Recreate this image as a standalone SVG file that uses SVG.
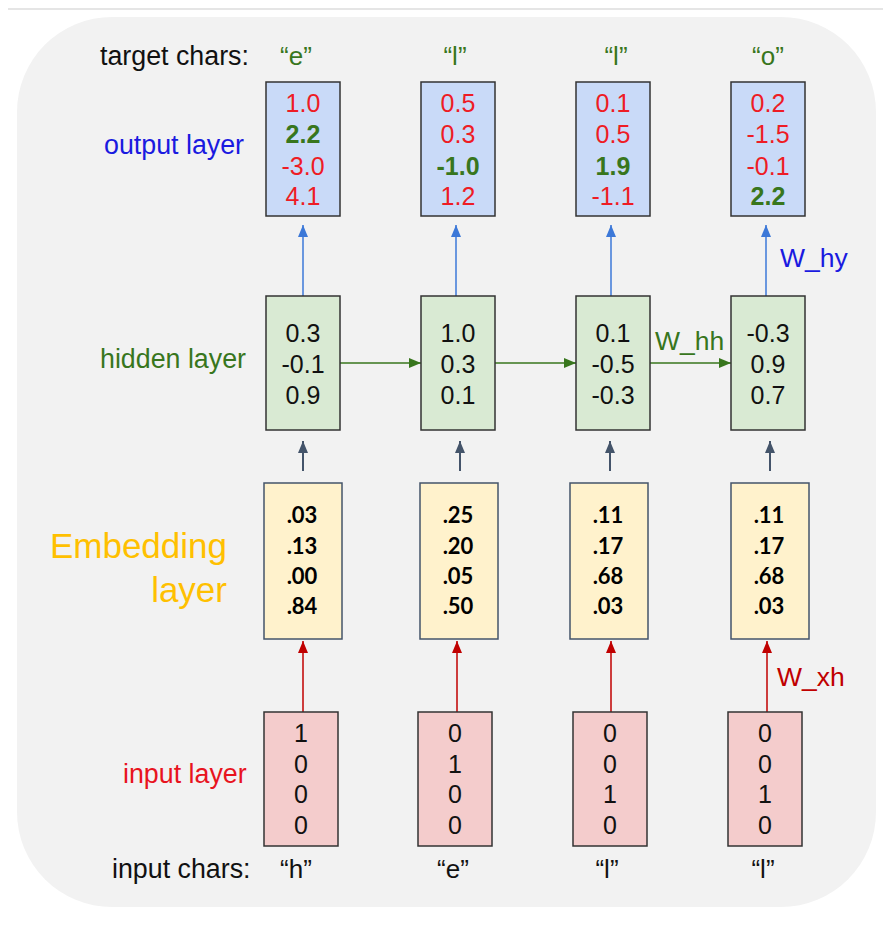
<svg xmlns="http://www.w3.org/2000/svg" width="896" height="928" viewBox="0 0 896 928">
<defs>
<marker id="ab" viewBox="0 0 12 10" refX="12" refY="5" markerWidth="12" markerHeight="10" markerUnits="userSpaceOnUse" orient="auto"><path d="M0,0 L12,5 L0,10 z" fill="#3c78d8"/></marker>
<marker id="as" viewBox="0 0 12 10" refX="12" refY="5" markerWidth="12" markerHeight="11" markerUnits="userSpaceOnUse" orient="auto"><path d="M0,0 L12,5 L0,10 z" fill="#44546a"/></marker>
<marker id="ar" viewBox="0 0 12 10" refX="12" refY="5" markerWidth="12" markerHeight="10" markerUnits="userSpaceOnUse" orient="auto"><path d="M0,0 L12,5 L0,10 z" fill="#c00000"/></marker>
<marker id="ag" viewBox="0 0 12 10" refX="12" refY="5" markerWidth="12" markerHeight="10" markerUnits="userSpaceOnUse" orient="auto"><path d="M0,0 L12,5 L0,10 z" fill="#38761d"/></marker>
</defs>
<style>
text{font-family:"Liberation Sans",Arial,sans-serif;}
.v{font-size:25px;text-anchor:middle;}
.lab{font-size:26.8px;}
.w{font-size:26.5px;}
.out{fill:#c9daf8;stroke:#333;stroke-width:1.5;}
.hid{fill:#d9ead3;stroke:#333;stroke-width:1.5;}
.emb{fill:#fff2cc;stroke:#44546a;stroke-width:1.5;}
.inp{fill:#f4cccc;stroke:#333;stroke-width:1.5;}
.r{fill:#ee1c25;}
.g{fill:#38761d;font-weight:bold;}
.k{fill:#111;}
.e{font-family:Lato,"Open Sans",sans-serif;font-weight:bold;font-size:22px;text-anchor:middle;fill:#000;}
.ch{fill:#38761d;font-size:26px;text-anchor:middle;}
.ich{fill:#111;font-size:26px;text-anchor:middle;}
</style>
<rect x="0" y="0" width="896" height="928" fill="#fff"/>
<line x1="8" y1="9" x2="883" y2="9" stroke="#ddd" stroke-width="1.5"/>
<rect x="17" y="17" width="859" height="890" rx="95" ry="95" fill="#f2f2f2"/>

<g id="labels">
<text class="lab" x="100" y="65" fill="#111">target chars:</text>
<text class="lab" x="104" y="154" fill="#1a1ae0">output layer</text>
<text class="lab" x="100" y="368" fill="#38761d">hidden layer</text>
<text x="227" y="558" text-anchor="end" font-family="Lato,'Open Sans',sans-serif" font-size="35" fill="#ffc000">Embedding</text>
<text x="227" y="602" text-anchor="end" font-family="Lato,'Open Sans',sans-serif" font-size="35" fill="#ffc000">layer</text>
<text class="lab" x="123" y="783" fill="#e8141e">input layer</text>
<text class="lab" x="112" y="878" fill="#111">input chars:</text>
<text class="ch" x="296" y="65">“e”</text>
<text class="ch" x="455" y="65">“l”</text>
<text class="ch" x="616" y="65">“l”</text>
<text class="ch" x="768" y="65">“o”</text>
<text class="ich" x="296" y="878">“h”</text>
<text class="ich" x="453" y="878">“e”</text>
<text class="ich" x="607" y="878">“l”</text>
<text class="ich" x="763" y="878">“l”</text>
</g>

<g id="connectors">
<line x1="303" y1="296" x2="303" y2="225" stroke="#3c78d8" stroke-width="1.5" marker-end="url(#ab)"/>
<line x1="456" y1="296" x2="456" y2="225" stroke="#3c78d8" stroke-width="1.5" marker-end="url(#ab)"/>
<line x1="611" y1="296" x2="611" y2="225" stroke="#3c78d8" stroke-width="1.5" marker-end="url(#ab)"/>
<line x1="766" y1="296" x2="766" y2="225" stroke="#3c78d8" stroke-width="1.5" marker-end="url(#ab)"/>
<text class="w" x="780" y="267" fill="#1a1ae0">W_hy</text>
<line x1="340" y1="363" x2="421" y2="363" stroke="#38761d" stroke-width="1.5" marker-end="url(#ag)"/>
<line x1="495" y1="363" x2="576" y2="363" stroke="#38761d" stroke-width="1.5" marker-end="url(#ag)"/>
<line x1="650" y1="363" x2="731" y2="363" stroke="#38761d" stroke-width="1.5" marker-end="url(#ag)"/>
<text class="w" x="655" y="350" fill="#38761d">W_hh</text>
<line x1="303" y1="471" x2="303" y2="441" stroke="#44546a" stroke-width="2" marker-end="url(#as)"/>
<line x1="460" y1="471" x2="460" y2="441" stroke="#44546a" stroke-width="2" marker-end="url(#as)"/>
<line x1="610" y1="471" x2="610" y2="441" stroke="#44546a" stroke-width="2" marker-end="url(#as)"/>
<line x1="770" y1="471" x2="770" y2="441" stroke="#44546a" stroke-width="2" marker-end="url(#as)"/>
<line x1="303" y1="712" x2="303" y2="641" stroke="#c00000" stroke-width="1.5" marker-end="url(#ar)"/>
<line x1="457" y1="712" x2="457" y2="641" stroke="#c00000" stroke-width="1.5" marker-end="url(#ar)"/>
<line x1="611" y1="712" x2="611" y2="641" stroke="#c00000" stroke-width="1.5" marker-end="url(#ar)"/>
<line x1="767" y1="712" x2="767" y2="641" stroke="#c00000" stroke-width="1.5" marker-end="url(#ar)"/>
<text class="w" x="777" y="686" fill="#c00000">W_xh</text>
</g>

<g id="out1"><rect class="out" x="266" y="82" width="74" height="134"/>
<text class="v r" x="303" y="112">1.0</text><text class="v g" x="303" y="143">2.2</text><text class="v r" x="303" y="175">-3.0</text><text class="v r" x="303" y="205">4.1</text></g>
<g id="out2"><rect class="out" x="421" y="82" width="74" height="134"/>
<text class="v r" x="458" y="112">0.5</text><text class="v r" x="458" y="143">0.3</text><text class="v g" x="458" y="175">-1.0</text><text class="v r" x="458" y="205">1.2</text></g>
<g id="out3"><rect class="out" x="576" y="82" width="74" height="134"/>
<text class="v r" x="613" y="112">0.1</text><text class="v r" x="613" y="143">0.5</text><text class="v g" x="613" y="175">1.9</text><text class="v r" x="613" y="205">-1.1</text></g>
<g id="out4"><rect class="out" x="731" y="82" width="74" height="134"/>
<text class="v r" x="768" y="112">0.2</text><text class="v r" x="768" y="143">-1.5</text><text class="v r" x="768" y="175">-0.1</text><text class="v g" x="768" y="205">2.2</text></g>

<g id="hid1"><rect class="hid" x="266" y="296" width="74" height="134"/>
<text class="v k" x="303" y="342">0.3</text><text class="v k" x="303" y="373">-0.1</text><text class="v k" x="303" y="404">0.9</text></g>
<g id="hid2"><rect class="hid" x="421" y="296" width="74" height="134"/>
<text class="v k" x="458" y="342">1.0</text><text class="v k" x="458" y="373">0.3</text><text class="v k" x="458" y="404">0.1</text></g>
<g id="hid3"><rect class="hid" x="576" y="296" width="74" height="134"/>
<text class="v k" x="613" y="342">0.1</text><text class="v k" x="613" y="373">-0.5</text><text class="v k" x="613" y="404">-0.3</text></g>
<g id="hid4"><rect class="hid" x="731" y="296" width="74" height="134"/>
<text class="v k" x="768" y="342">-0.3</text><text class="v k" x="768" y="373">0.9</text><text class="v k" x="768" y="404">0.7</text></g>

<g id="emb1"><rect class="emb" x="264" y="483" width="78" height="156"/>
<text class="e" x="302" y="523">.03</text><text class="e" x="302" y="554">.13</text><text class="e" x="302" y="584">.00</text><text class="e" x="302" y="614">.84</text></g>
<g id="emb2"><rect class="emb" x="420" y="483" width="78" height="156"/>
<text class="e" x="458" y="523">.25</text><text class="e" x="458" y="554">.20</text><text class="e" x="458" y="584">.05</text><text class="e" x="458" y="614">.50</text></g>
<g id="emb3"><rect class="emb" x="570" y="483" width="78" height="156"/>
<text class="e" x="608" y="523">.11</text><text class="e" x="608" y="554">.17</text><text class="e" x="608" y="584">.68</text><text class="e" x="608" y="614">.03</text></g>
<g id="emb4"><rect class="emb" x="731" y="483" width="78" height="156"/>
<text class="e" x="769" y="523">.11</text><text class="e" x="769" y="554">.17</text><text class="e" x="769" y="584">.68</text><text class="e" x="769" y="614">.03</text></g>

<g id="inp1"><rect class="inp" x="264" y="712" width="74" height="134"/>
<text class="v k" x="301" y="742">1</text><text class="v k" x="301" y="773">0</text><text class="v k" x="301" y="803">0</text><text class="v k" x="301" y="834">0</text></g>
<g id="inp2"><rect class="inp" x="418" y="712" width="74" height="134"/>
<text class="v k" x="455" y="742">0</text><text class="v k" x="455" y="773">1</text><text class="v k" x="455" y="803">0</text><text class="v k" x="455" y="834">0</text></g>
<g id="inp3"><rect class="inp" x="573" y="712" width="74" height="134"/>
<text class="v k" x="610" y="742">0</text><text class="v k" x="610" y="773">0</text><text class="v k" x="610" y="803">1</text><text class="v k" x="610" y="834">0</text></g>
<g id="inp4"><rect class="inp" x="728" y="712" width="74" height="134"/>
<text class="v k" x="765" y="742">0</text><text class="v k" x="765" y="773">0</text><text class="v k" x="765" y="803">1</text><text class="v k" x="765" y="834">0</text></g>
</svg>
